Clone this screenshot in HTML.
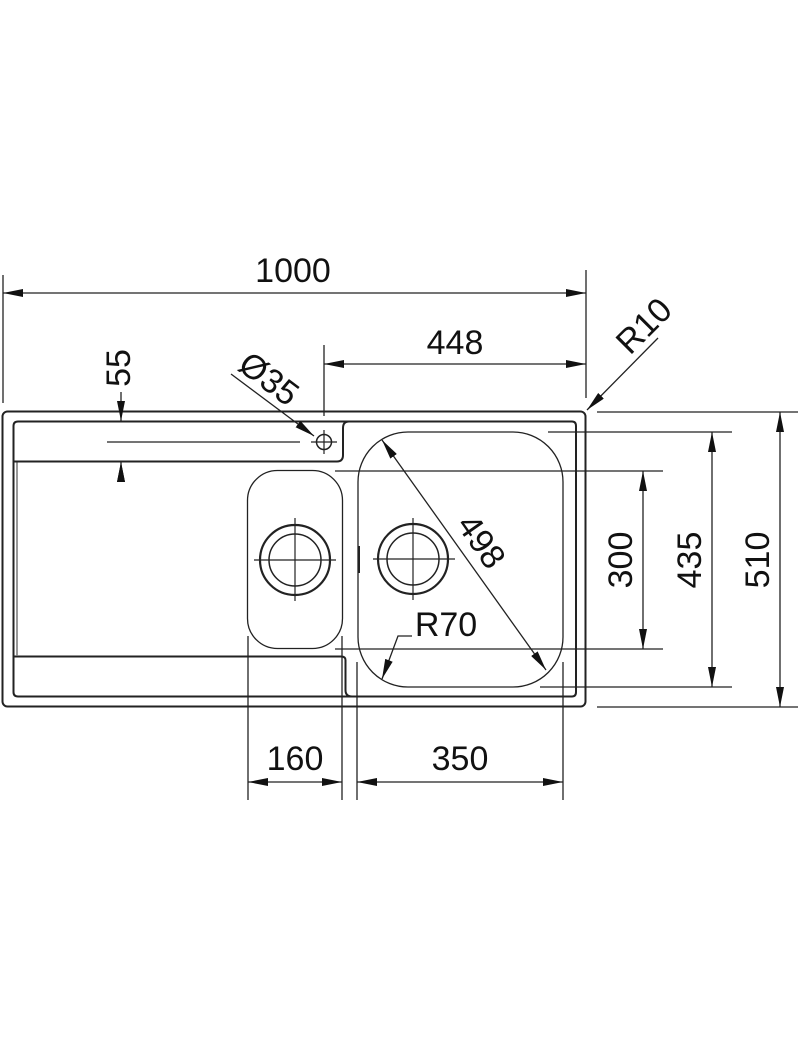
<!DOCTYPE html>
<html><head><meta charset="utf-8"><style>
html,body{margin:0;padding:0;background:#fff;}
svg{display:block;}
text{font-family:"Liberation Sans",Arial,sans-serif;font-size:34px;fill:#111;}
</style></head><body>
<svg width="800" height="1058" viewBox="0 0 800 1058" xmlns="http://www.w3.org/2000/svg">
<defs>
<marker id="a" viewBox="0 0 20 8" refX="20" refY="4" markerWidth="20" markerHeight="8" markerUnits="userSpaceOnUse" orient="auto-start-reverse"><path d="M0,0 L20,4 L0,8 z" fill="#111"/></marker>
</defs>
<g fill="none" stroke="#222">
<!-- outer -->
<rect x="2.5" y="411.5" width="583" height="295" rx="5" stroke-width="2"/>
<!-- inner frame: top line + right bowl area -->
<path d="M18,421.5 H572 Q576,421.5 576,426 V692 Q576,696.5 572,696.5 H352 Q345.5,696.5 345.5,690 V660 Q345.5,656.5 341,656.5 H14" stroke-width="2"/>
<path d="M18,421.5 Q13.5,421.5 13.5,426 V692 Q13.5,696.5 18,696.5 H352" stroke-width="2"/>
<line x1="17" y1="462" x2="17" y2="656" stroke-width="1.5" stroke="#777"/>
<!-- top drainer strip -->
<path d="M14,461.5 H337 Q343,461.5 343,455 V428 Q343,421.5 349,421.5" stroke-width="2"/>
<!-- small bowl -->
<rect x="247.5" y="470.5" width="95" height="178" rx="30" stroke-width="1.3"/>
<circle cx="295" cy="560" r="35" stroke-width="2.2"/>
<circle cx="295" cy="560" r="26" stroke-width="1.5"/>
<line x1="254" y1="560" x2="336" y2="560" stroke-width="1.2"/>
<line x1="295" y1="518" x2="295" y2="601" stroke-width="1.2"/>
<line x1="359" y1="546" x2="359" y2="573" stroke-width="2"/>
<!-- big bowl -->
<rect x="358" y="432" width="205" height="255" rx="50" stroke-width="1.3"/>
<circle cx="413" cy="559" r="35" stroke-width="2.2"/>
<circle cx="413" cy="559" r="26" stroke-width="1.5"/>
<line x1="373" y1="559" x2="455" y2="559" stroke-width="1.2"/>
<line x1="413" y1="518" x2="413" y2="600" stroke-width="1.2"/>
<!-- tap hole -->
<circle cx="324" cy="442" r="7.5" stroke-width="1.5"/>
<line x1="311" y1="442" x2="337" y2="442" stroke-width="1.2"/>
<line x1="324" y1="430" x2="324" y2="454" stroke-width="1.2"/>
<line x1="107" y1="442" x2="300" y2="442" stroke-width="1.2"/>
</g>
<g fill="none" stroke="#222" stroke-width="1.3">
<!-- 1000 -->
<line x1="3" y1="275" x2="3" y2="403"/>
<line x1="586" y1="270" x2="586" y2="398"/>
<line x1="3" y1="293" x2="586" y2="293" marker-start="url(#a)" marker-end="url(#a)"/>
<!-- 448 -->
<line x1="324" y1="345" x2="324" y2="416"/>
<line x1="324" y1="364" x2="586" y2="364" marker-start="url(#a)" marker-end="url(#a)"/>
<!-- 55 -->
<line x1="121" y1="392" x2="121" y2="421" marker-end="url(#a)"/>
<line x1="121" y1="490" x2="121" y2="462" marker-end="url(#a)" stroke-width="0"/>
<line x1="121" y1="480" x2="121" y2="462" marker-end="url(#a)"/>
<!-- Ø35 leader -->
<line x1="231" y1="374" x2="314" y2="436" marker-end="url(#a)"/>
<!-- R10 -->
<line x1="658" y1="338" x2="587" y2="410" marker-end="url(#a)"/>
<!-- right dims -->
<line x1="597" y1="412" x2="798" y2="412"/>
<line x1="597" y1="707" x2="798" y2="707"/>
<line x1="780" y1="412" x2="780" y2="707" marker-start="url(#a)" marker-end="url(#a)"/>
<line x1="548" y1="432" x2="732" y2="432"/>
<line x1="540" y1="687" x2="732" y2="687"/>
<line x1="712" y1="432" x2="712" y2="687" marker-start="url(#a)" marker-end="url(#a)"/>
<line x1="335" y1="471" x2="663" y2="471"/>
<line x1="335" y1="649" x2="663" y2="649"/>
<line x1="643" y1="471" x2="643" y2="649" marker-start="url(#a)" marker-end="url(#a)"/>
<!-- bottom dims -->
<line x1="248" y1="636" x2="248" y2="800"/>
<line x1="342" y1="636" x2="342" y2="800"/>
<line x1="357" y1="662" x2="357" y2="800"/>
<line x1="563" y1="662" x2="563" y2="800"/>
<line x1="248" y1="782" x2="342" y2="782" marker-start="url(#a)" marker-end="url(#a)"/>
<line x1="357" y1="782" x2="563" y2="782" marker-start="url(#a)" marker-end="url(#a)"/>
<!-- 498 diagonal -->
<line x1="382" y1="440" x2="546" y2="670" marker-start="url(#a)" marker-end="url(#a)"/>
<!-- R70 leader -->
<polyline points="412,636 398,636 382,679" marker-end="url(#a)"/>
</g>
<g text-anchor="middle">
<text x="293" y="282">1000</text>
<text x="455" y="354">448</text>
<text x="0" y="0" transform="translate(130,368) rotate(-90)">55</text>
<text x="0" y="0" transform="translate(262,388) rotate(37)">Ø35</text>
<text x="0" y="0" transform="translate(652,334) rotate(-45)">R10</text>
<text x="0" y="0" transform="translate(632,560) rotate(-90)">300</text>
<text x="0" y="0" transform="translate(701,560) rotate(-90)">435</text>
<text x="0" y="0" transform="translate(769,560) rotate(-90)">510</text>
<text x="0" y="0" transform="translate(472,548) rotate(55)">498</text>
<text x="446" y="636">R70</text>
<text x="295" y="770">160</text>
<text x="460" y="770">350</text>
</g>
</svg>
</body></html>
